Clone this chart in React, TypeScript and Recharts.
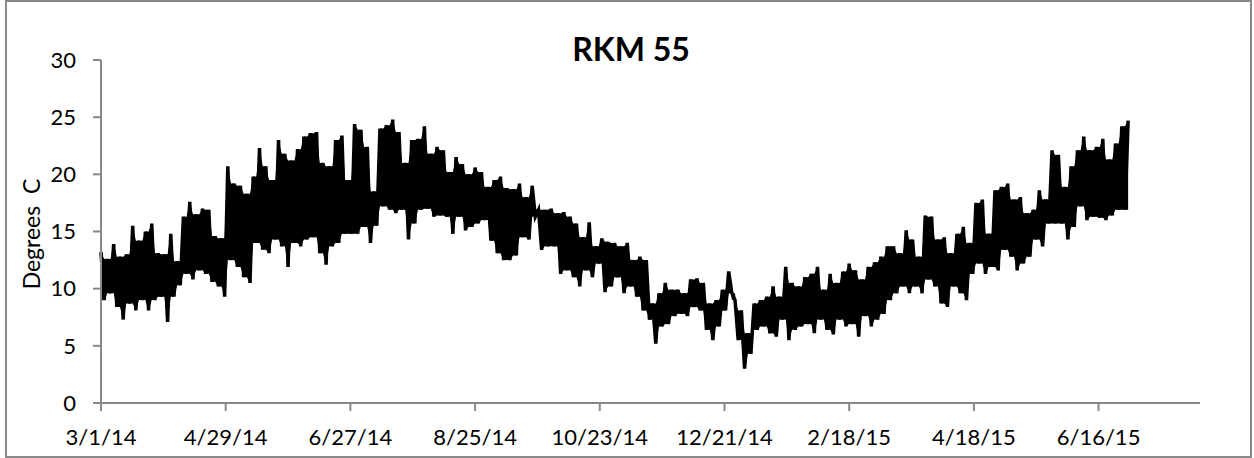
import { ComposedChart, Area, Line, XAxis, YAxis } from 'recharts'

// 3-day samples: daily highs at day 0,3,6,... and lows half way between
const STEP = 3

const highs = [
  13.2, 12.6, 13.9, 12.8, 13.0, 15.5, 14.2, 15.0, 15.7, 13.1,
  13.0, 14.8, 12.4, 16.3, 17.6, 16.5, 17.0, 16.9, 14.6, 14.4,
  20.7, 19.2, 19.0, 18.3, 19.8, 22.3, 20.7, 19.5, 23.0, 21.8,
  21.2, 22.2, 23.3, 23.6, 23.7, 21.0, 20.7, 23.0, 23.4, 19.5,
  24.4, 23.9, 22.4, 18.5, 24.0, 24.3, 24.8, 23.7, 21.0, 23.0,
  23.1, 24.2, 21.8, 22.4, 22.1, 20.2, 21.5, 20.9, 20.0, 20.6,
  20.2, 18.9, 19.5, 19.8, 18.8, 18.7, 19.2, 18.0, 19.0, 16.9,
  16.9, 17.0, 16.6, 16.7, 16.3, 15.7, 14.5, 15.8, 13.7, 14.4,
  14.1, 14.0, 13.7, 14.0, 12.5, 12.8, 12.5, 8.7, 9.6, 10.5,
  9.9, 9.9, 9.6, 10.8, 10.9, 10.5, 8.7, 9.0, 9.9, 11.5,
  9.0, 8.1, 6.1, 8.7, 9.0, 9.3, 10.2, 9.3, 11.9, 10.5,
  10.2, 11.0, 11.3, 11.9, 9.9, 11.3, 10.5, 11.5, 12.2, 11.6,
  10.8, 11.9, 12.3, 12.8, 13.7, 13.7, 13.1, 15.1, 14.3, 12.8,
  16.4, 16.3, 14.3, 14.5, 13.1, 14.8, 15.4, 14.0, 17.5, 17.8,
  14.8, 18.6, 18.9, 19.2, 17.8, 18.0, 16.6, 16.9, 18.6, 17.8,
  22.1, 21.7, 18.9, 20.7, 22.1, 23.3, 22.1, 22.4, 23.1, 21.3,
  22.7, 24.2, 24.7,
]

const lows = [
  9.0, 9.6, 8.4, 7.3, 8.7, 8.1, 9.0, 8.1, 9.0, 9.3,
  7.1, 9.3, 10.3, 11.3, 10.8, 11.6, 11.3, 10.6, 10.2, 9.3,
  12.5, 11.9, 11.0, 10.5, 14.0, 13.4, 13.1, 14.3, 13.7, 11.9,
  14.0, 13.7, 14.3, 14.5, 13.1, 12.1, 13.7, 14.0, 14.8, 14.8,
  14.8, 15.4, 14.0, 15.5, 17.2, 16.9, 16.6, 16.9, 14.3, 15.7,
  16.9, 17.0, 16.3, 16.4, 16.3, 14.8, 16.3, 15.1, 15.4, 15.7,
  16.0, 14.2, 13.1, 12.5, 12.5, 12.9, 14.5, 14.3, 16.3, 13.4,
  13.7, 13.7, 11.3, 11.6, 11.0, 10.2, 11.6, 11.0, 12.2, 9.7,
  10.2, 11.0, 9.6, 10.2, 9.3, 8.1, 7.3, 5.2, 6.7, 6.9,
  7.6, 7.8, 7.6, 8.4, 8.1, 6.4, 5.5, 6.7, 8.1, 9.6,
  5.5, 3.0, 4.3, 6.4, 6.7, 6.1, 5.8, 7.3, 5.5, 6.4,
  6.7, 6.9, 6.1, 7.3, 6.4, 6.0, 7.3, 6.7, 6.9, 5.8,
  7.6, 6.7, 7.3, 7.8, 9.0, 9.6, 10.2, 9.6, 10.2, 9.6,
  10.8, 10.2, 8.7, 8.4, 10.2, 9.6, 9.0, 11.3, 12.2, 11.3,
  11.9, 11.6, 13.4, 12.8, 11.6, 12.2, 12.8, 14.3, 13.7, 15.7,
  15.7, 15.7, 14.3, 15.4, 17.2, 16.0, 16.3, 16.2, 16.0, 16.4,
  16.9, 16.9,
]

// days since 3/1/14, every 59 days
const xTicks = [0, 59, 118, 177, 236, 295, 354, 413, 472]
const xTickLabels = ['3/1/14', '4/29/14', '6/27/14', '8/25/14', '10/23/14', '12/21/14', '2/18/15', '4/18/15', '6/16/15']
const yTicks = [0, 5, 10, 15, 20, 25, 30]

// zigzag through highs and lows, plus a filled core so the daily swings read as a solid band
const data: { day: number; temp: number; band: [number, number] }[] = []
highs.forEach((h, i) => {
  const lp = lows[i - 1] ?? lows[i]
  const ln = lows[i] ?? lows[i - 1]
  data.push({ day: i * STEP, temp: h, band: [Math.max(lp, ln), h] })
  if (i < lows.length) {
    const hn = highs[i + 1] ?? h
    data.push({ day: i * STEP + STEP / 2, temp: lows[i], band: [lows[i], Math.min(h, hn)] })
  }
})

const FONT = 'Lato, "Open Sans", sans-serif'
const AXIS = '#898989'

export default function App() {
  return (
    <div style={{ position: 'absolute', left: 0, top: 0, width: 1254, height: 458, background: '#fff', fontFamily: FONT }}>
      <div style={{ position: 'absolute', left: 5, top: 0, width: 1243, height: 454, border: `2px solid ${AXIS}` }} />
      <div style={{ position: 'absolute', left: 0, top: 29, width: 1262, textAlign: 'center', fontSize: 32, fontWeight: 700, color: '#000' }}>
        RKM 55
      </div>
      <div
        style={{
          position: 'absolute', left: 31, top: 234, fontSize: 23, color: '#000', whiteSpace: 'pre',
          transform: 'translate(-50%, -50%) rotate(-90deg)',
        }}
      >
        Degrees  C
      </div>
      <ComposedChart width={1254} height={458} data={data} margin={{ top: 60, right: 54, left: 41, bottom: 0 }} style={{ position: 'absolute', left: 0, top: 0 }}>
        <XAxis
          dataKey="day"
          type="number"
          domain={[0, 520]}
          ticks={xTicks}
          tickFormatter={(v: number) => xTickLabels[Math.round(v / 59)]}
          height={55}
          tickSize={8}
          tickMargin={18}
          stroke={AXIS}
          strokeWidth={2}
          tick={{ fill: '#000', fontSize: 22, fontFamily: FONT }}
          interval={0}
        />
        <YAxis
          domain={[0, 30]}
          ticks={yTicks}
          width={60}
          tickSize={8}
          tickMargin={17}
          stroke={AXIS}
          strokeWidth={2}
          tick={{ fill: '#000', fontSize: 22, fontFamily: FONT }}
          interval={0}
        />
        <Area
          type="linear"
          dataKey="band"
          stroke="none"
          fill="#000"
          fillOpacity={1}
          isAnimationActive={false}
        />
        <Line
          type="linear"
          dataKey="temp"
          stroke="#000"
          strokeWidth={3.5}
          dot={false}
          isAnimationActive={false}
        />
      </ComposedChart>
    </div>
  )
}
